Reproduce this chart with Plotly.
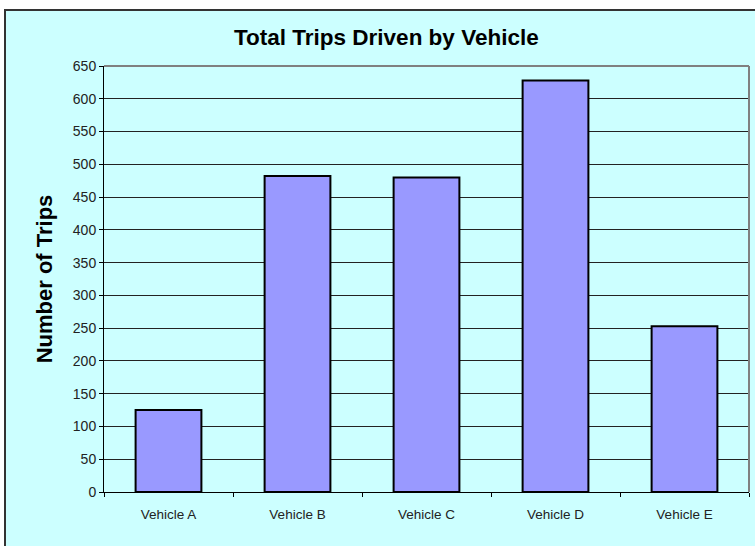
import plotly.graph_objects as go

categories = ["Vehicle A", "Vehicle B", "Vehicle C", "Vehicle D", "Vehicle E"]
trips = [125, 482, 480, 628, 253]
y_ticks = list(range(0, 651, 50))

L, R, T, B = 104, 6, 66, 54
W, H = 755, 546
pw, ph = W - L - R, H - T - B

def px_x(p):
    return (p - L) / pw

def px_y(p):
    return (H - B - p) / ph

fig = go.Figure()
fig.add_trace(go.Bar(
    x=categories, y=trips,
    marker=dict(color="#9999FF", line=dict(color="black", width=2)),
))

fig.update_layout(
    width=W, height=H,
    margin=dict(l=L, r=R, t=T, b=B),
    paper_bgcolor="white",
    plot_bgcolor="#CCFFFF",
    bargap=0.49,
    showlegend=False,
    font=dict(family="Arial, Liberation Sans", color="black"),
    xaxis=dict(
        showline=True, linecolor="black", linewidth=1,
        ticks="outside", tickson="boundaries", ticklen=4, tickcolor="black",
        tickfont=dict(size=13.5, color="#222222"), showgrid=False,
        ticklabelstandoff=10,
    ),
    yaxis=dict(
        range=[0, 650], tickvals=y_ticks,
        showline=True, linecolor="black", linewidth=1,
        ticks="outside", ticklen=4, tickcolor="black",
        showgrid=True, gridcolor="#222222", gridwidth=1,
        tickfont=dict(size=14, color="#222222"), zeroline=False,
        title=dict(text="<b>Number of Trips</b>", font=dict(size=22), standoff=14),
    ),
    shapes=[
        dict(type="rect", xref="paper", yref="paper",
             x0=px_x(5), x1=px_x(W + 20), y0=px_y(10), y1=px_y(H + 20),
             fillcolor="#CCFFFF", line=dict(color="#333333", width=2), layer="below"),
        dict(type="line", xref="paper", yref="paper", x0=0, x1=1, y0=1, y1=1,
             line=dict(color="#808080", width=2), layer="above"),
        dict(type="line", xref="paper", yref="paper", x0=1, x1=1, y0=0, y1=1,
             line=dict(color="#808080", width=2), layer="above"),
    ],
    annotations=[
        dict(text="<b>Total Trips Driven by Vehicle</b>", xref="paper", yref="paper",
             x=px_x(386), y=px_y(38), showarrow=False, font=dict(size=22.5),
             xanchor="center", yanchor="middle"),
    ],
)

fig.write_html("out.html", config={"displayModeBar": False},
               post_script="document.body.style.margin='0px';document.body.style.overflow='hidden';")
